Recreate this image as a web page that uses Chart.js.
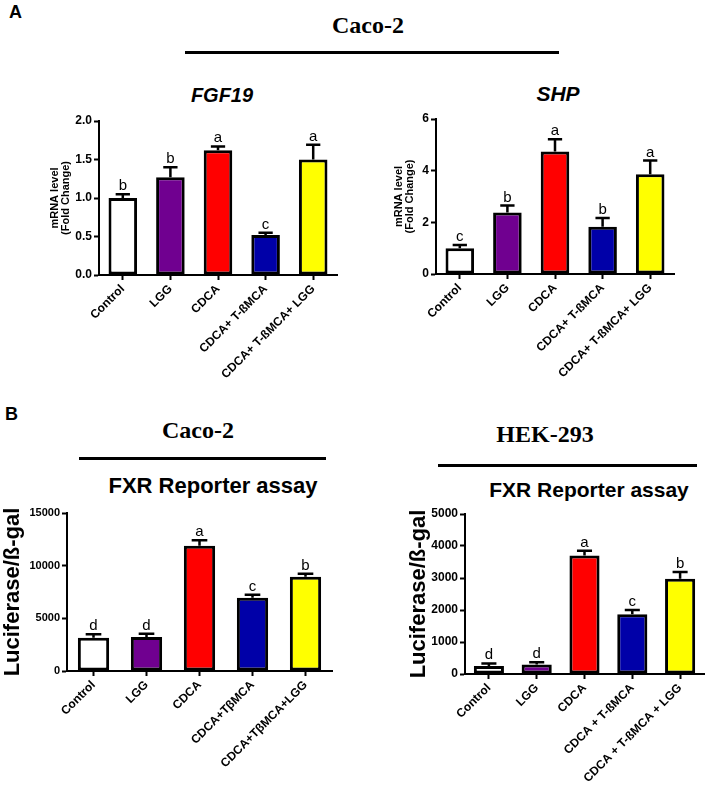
<!DOCTYPE html>
<html lang="en">
<head>
    <meta charset="UTF-8">
    <title>FGF19 / SHP / FXR reporter</title>
    <style>
        body {
            margin: 0;
            background: #fff;
            font-family: "Liberation Sans", Arial, sans-serif;
        }
        .figure {
            position: relative;
            width: 709px;
            height: 791px;
            overflow: hidden;
        }
        .figure canvas, .figure .txt, .figure .rule {
            position: absolute;
        }
        .txt {
            line-height: 1;
            white-space: nowrap;
            color: #000;
        }
        .panel-letter { font-weight: bold; font-size: 18px; }
        .cell { font-family: "Liberation Serif", "Times New Roman", serif; font-weight: bold; font-size: 24px; transform: translateX(-50%); }
        .gene { font-weight: bold; font-style: italic; transform: translateX(-50%); }
        .assay { font-weight: bold; transform: translateX(-50%); }
        .rule { height: 3px; background: #000; }
    </style>
</head>
<body>
    <div class="figure">
        <div class="txt panel-letter" style="left:9px; top:3px;">A</div>
        <div class="txt cell" style="left:368px; top:13px;">Caco-2</div>
        <div class="rule" style="left:185px; top:51px; width:374px;"></div>
        <div class="txt gene" style="left:222px; top:85px; font-size:20px;">FGF19</div>
        <div class="txt gene" style="left:558px; top:83px; font-size:21px;">SHP</div>

        <div class="txt panel-letter" style="left:5px; top:405px;">B</div>
        <div class="txt cell" style="left:198px; top:418px;">Caco-2</div>
        <div class="rule" style="left:79px; top:457px; width:247px;"></div>
        <div class="txt assay" style="left:213px; top:475px; font-size:22px;">FXR Reporter assay</div>
        <div class="txt cell" style="left:545px; top:422px;">HEK-293</div>
        <div class="rule" style="left:438px; top:464px; width:259px;"></div>
        <div class="txt assay" style="left:589px; top:479px; font-size:21px;">FXR Reporter assay</div>

        <canvas id="fgf19Chart" width="350" height="300" style="left:0; top:100px;"></canvas>
        <canvas id="shpChart" width="359" height="300" style="left:350px; top:100px;"></canvas>
        <canvas id="cacoChart" width="350" height="291" style="left:0; top:500px;"></canvas>
        <canvas id="hekChart" width="359" height="291" style="left:350px; top:500px;"></canvas>
    </div>

    <script src="https://cdn.jsdelivr.net/npm/chart.js"></script>
    <script>
        // categories
        const groupsA = ['Control', 'LGG', 'CDCA', 'CDCA+ T-ßMCA', 'CDCA+ T-ßMCA+ LGG'];
        const groupsCaco = ['Control', 'LGG', 'CDCA', 'CDCA+TβMCA', 'CDCA+TβMCA+LGG'];
        const groupsHek = ['Control', 'LGG', 'CDCA', 'CDCA + T-ßMCA', 'CDCA + T-ßMCA + LGG'];
        const barColors = ['#ffffff', '#700090', '#ff0000', '#0000a8', '#ffff00'];

        // FGF19 mRNA (fold change) - mean and top of error bar
        const fgf19Mean = [1.0, 1.27, 1.62, 0.52, 1.50];
        const fgf19Upper = [1.05, 1.40, 1.67, 0.55, 1.69];
        const fgf19Letters = ['b', 'b', 'a', 'c', 'a'];

        // SHP mRNA (fold change)
        const shpMean = [1.0, 2.38, 4.74, 1.83, 3.86];
        const shpUpper = [1.12, 2.65, 5.22, 2.17, 4.39];
        const shpLetters = ['c', 'b', 'a', 'b', 'a'];

        // FXR reporter, Caco-2
        const cacoMean = [3160, 3230, 11900, 6960, 8950];
        const cacoUpper = [3480, 3540, 12410, 7240, 9240];
        const cacoLetters = ['d', 'd', 'a', 'c', 'b'];

        // FXR reporter, HEK-293
        const hekMean = [250, 300, 3700, 1870, 2980];
        const hekUpper = [330, 370, 3850, 2000, 3190];
        const hekLetters = ['d', 'd', 'a', 'c', 'b'];

        Chart.defaults.color = '#000';
        Chart.defaults.font.family = '"Liberation Sans", Arial, sans-serif';

        // upper error bar + significance letter above each bar
        const errorBars = {
            id: 'errorBars',
            afterDatasetsDraw(chart, args, opts) {
                const ctx = chart.ctx;
                const yScale = chart.scales.y;
                chart.getDatasetMeta(0).data.forEach((bar, i) => {
                    const top = yScale.getPixelForValue(opts.upper[i]);
                    const half = bar.width / 4;
                    ctx.save();
                    ctx.strokeStyle = '#000';
                    ctx.lineWidth = 2.5;
                    ctx.beginPath();
                    ctx.moveTo(bar.x, bar.y);
                    ctx.lineTo(bar.x, top);
                    ctx.moveTo(bar.x - half, top);
                    ctx.lineTo(bar.x + half, top);
                    ctx.stroke();
                    ctx.fillStyle = '#000';
                    ctx.font = '15px "Liberation Sans", Arial, sans-serif';
                    ctx.textAlign = 'center';
                    ctx.textBaseline = 'alphabetic';
                    ctx.fillText(opts.letters[i], bar.x, top - 4);
                    ctx.restore();
                });
            }
        };

        function makeChart(id, labels, values, upper, letters, s) {
            return new Chart(document.getElementById(id), {
                type: 'bar',
                data: {
                    labels: labels,
                    datasets: [{
                        data: values,
                        backgroundColor: barColors,
                        borderColor: '#000',
                        borderWidth: 3,
                        borderSkipped: false,
                        categoryPercentage: 1,
                        barPercentage: s.barPct
                    }]
                },
                options: {
                    responsive: false,
                    animation: false,
                    layout: { padding: s.padding },
                    plugins: {
                        legend: { display: false },
                        tooltip: { enabled: false },
                        errorBars: { upper: upper, letters: letters }
                    },
                    scales: {
                        x: {
                            grid: { display: true, drawOnChartArea: false, offset: false, tickLength: 5, tickWidth: 2, tickColor: '#000' },
                            border: { display: true, color: '#000', width: 2 },
                            ticks: {
                                autoSkip: false,
                                minRotation: 45,
                                maxRotation: 45,
                                padding: 2,
                                font: { size: 12, weight: 'bold' }
                            },
                            afterFit: (scale) => { scale.height = s.xHeight; }
                        },
                        y: {
                            min: 0,
                            max: s.max,
                            grid: { display: true, drawOnChartArea: false, tickLength: 5, tickWidth: 2, tickColor: '#000' },
                            border: { display: true, color: '#000', width: 2 },
                            ticks: {
                                stepSize: s.step,
                                padding: 2,
                                font: { size: s.tickSize, weight: 'bold' },
                                callback: s.fmt || ((v) => v)
                            },
                            title: {
                                display: true,
                                text: s.yTitle,
                                padding: s.titlePad,
                                font: s.titleFont
                            },
                            afterFit: (scale) => { scale.width = s.yWidth; }
                        }
                    }
                },
                plugins: [errorBars]
            });
        }

        makeChart('fgf19Chart', groupsA, fgf19Mean, fgf19Upper, fgf19Letters, {
            barPct: 0.6, max: 2, step: 0.5, tickSize: 12,
            fmt: (v) => v.toFixed(1),
            padding: { left: 43, right: 13, top: 21, bottom: 0 },
            yWidth: 56, xHeight: 125,
            yTitle: ['mRNA level', '(Fold Change)'],
            titlePad: { top: 6, bottom: 0 },
            titleFont: { size: 11, weight: 'bold', lineHeight: 1.05 }
        });

        makeChart('shpChart', groupsA, shpMean, shpUpper, shpLetters, {
            barPct: 0.6, max: 6, step: 2, tickSize: 12,
            padding: { left: 37, right: 35, top: 19, bottom: 0 },
            yWidth: 49, xHeight: 126,
            yTitle: ['mRNA level', '(Fold Change)'],
            titlePad: { top: 6, bottom: 0 },
            titleFont: { size: 11, weight: 'bold', lineHeight: 1.05 }
        });

        makeChart('cacoChart', groupsCaco, cacoMean, cacoUpper, cacoLetters, {
            barPct: 0.59, max: 15000, step: 5000, tickSize: 11,
            padding: { left: 0, right: 18, top: 13, bottom: 0 },
            yWidth: 67, xHeight: 120,
            yTitle: 'Luciferase/ß-gal',
            titlePad: { top: 0, bottom: 0 },
            titleFont: { size: 22, weight: 'bold', lineHeight: 1.15 }
        });

        makeChart('hekChart', groupsHek, hekMean, hekUpper, hekLetters, {
            barPct: 0.63, max: 5000, step: 1000, tickSize: 12,
            padding: { left: 56, right: 5, top: 14, bottom: 0 },
            yWidth: 59, xHeight: 117,
            yTitle: 'Luciferase/ß-gal',
            titlePad: { top: 0, bottom: 0 },
            titleFont: { size: 22, weight: 'bold', lineHeight: 1.15 }
        });
    </script>
</body>
</html>
